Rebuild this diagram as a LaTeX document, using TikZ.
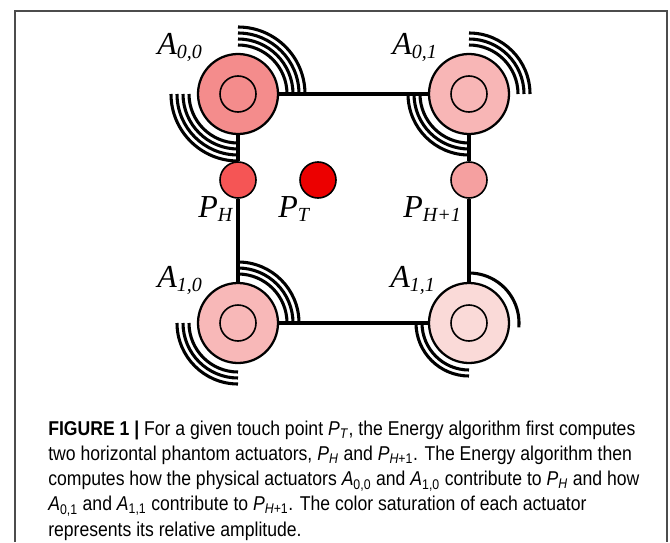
\documentclass[tikz,border=0pt]{standalone}
\usepackage{fontspec}
\setmainfont{Liberation Serif}
\newfontfamily\capfont[FakeStretch=0.88]{Liberation Sans}
\usepackage{tikz}
\usetikzlibrary{positioning,calc}

\definecolor{aoocol}{RGB}{244,140,140}
\definecolor{aoicol}{RGB}{248,182,182}
\definecolor{aiocol}{RGB}{248,184,184}
\definecolor{aiicol}{RGB}{250,218,216}
\definecolor{phcol}{RGB}{245,85,85}
\definecolor{ptcol}{RGB}{236,0,0}
\definecolor{phicol}{RGB}{245,160,160}

\newcommand\actlab[2]{{\fontsize{24}{24}\selectfont\itshape #1\raisebox{-3pt}{\fontsize{15}{15}\selectfont #2}}}

\begin{document}
\begin{tikzpicture}[x=0.75pt,y=0.75pt,
  act/.style={circle, draw=black, line width=1.7pt, minimum size=60pt, inner sep=0pt},
  phant/.style={circle, draw=black, line width=1.2pt, minimum size=27pt, inner sep=0pt},
  edge/.style={line width=2.3pt},
  wave/.style={line width=2.3pt},
  lab/.style={anchor=base west, inner sep=0pt},
]
\useasboundingbox (0,0) rectangle (670,-542);

%% frame
\draw[black!70, line width=1.1pt] (15,-542) -- (15,-11) -- (667,-11) -- (667,-542);

%% actuators
\node[act, fill=aoocol] (a00) at (238,-94) {};
\node[act, fill=aoicol] (a01) at (469,-94) {};
\node[act, fill=aiocol] (a10) at (238,-323) {};
\node[act, fill=aiicol] (a11) at (469,-323) {};

%% phantoms and touch point
\node[phant, fill=phcol] (ph) at (238,-180) {};
\node[phant, fill=ptcol] (pt) at (318,-180) {};
\node[phant, fill=phicol] (ph1) at (469,-180) {};

\draw[edge] (a00) -- (a01);
\draw[edge] (a10) -- (a11);
\draw[edge] (a00) -- (ph);
\draw[edge] (ph) -- (a10);
\draw[edge] (a01) -- (ph1);
\draw[edge] (ph1) -- (a11);

\foreach \n in {a00,a01,a10,a11}
  \draw[line width=1.2pt] (\n.center) circle[radius=18];

%% vibration marks
\foreach \r in {49,55,61,67}{
  \draw[wave] ([shift={(0:\r)}]a00.center) arc[start angle=0,end angle=90,radius=\r];
  \draw[wave] ([shift={(180:\r)}]a00.center) arc[start angle=180,end angle=270,radius=\r];
}
\foreach \r in {49,55,61}{
  \draw[wave] ([shift={(0:\r)}]a01.center) arc[start angle=0,end angle=90,radius=\r];
  \draw[wave] ([shift={(180:\r)}]a01.center) arc[start angle=180,end angle=270,radius=\r];
  \draw[wave] ([shift={(0:\r)}]a10.center) arc[start angle=0,end angle=90,radius=\r];
  \draw[wave] ([shift={(180:\r)}]a10.center) arc[start angle=180,end angle=270,radius=\r];
}
\draw[wave] ([shift={(-5:50)}]a11.center) arc[start angle=-5,end angle=90,radius=50];
\foreach \r in {47,53}{
  \draw[wave] ([shift={(180:\r)}]a11.center) arc[start angle=180,end angle=270,radius=\r];
}

%% labels
\node[lab] (la00) at (157,-55) {\actlab{A}{0,0}};
\node[lab] (la01) at (392,-55) {\actlab{A}{0,1}};
\node[lab] (la10) at (157,-287) {\actlab{A}{1,0}};
\node[lab] (la11) at (390,-287) {\actlab{A}{1,1}};
\node[lab] (lph) at (198,-217) {\actlab{P}{H}};
\node[lab] (lpt) at (278,-217) {\actlab{P}{T}};
\node[lab] (lph1) at (403,-217) {\actlab{P}{H+1}};

%% caption
\node[anchor=north west, inner sep=0pt, align=left,
  font=\capfont\fontsize{15}{18.8}\selectfont] (cap) at (48,-421)
  {\textbf{FIGURE 1 |} For a given touch point \textit{P}\textsubscript{\textit{T}}, the Energy algorithm first computes\\
   two horizontal phantom actuators, \textit{P}\textsubscript{\textit{H}} and \textit{P}\textsubscript{\textit{H}+1}. The Energy algorithm then\\
   computes how the physical actuators \textit{A}\textsubscript{0,0} and \textit{A}\textsubscript{1,0} contribute to \textit{P}\textsubscript{\textit{H}} and how\\
   \textit{A}\textsubscript{0,1} and \textit{A}\textsubscript{1,1} contribute to \textit{P}\textsubscript{\textit{H}+1}. The color saturation of each actuator\\
   represents its relative amplitude.};

\end{tikzpicture}
\end{document}
